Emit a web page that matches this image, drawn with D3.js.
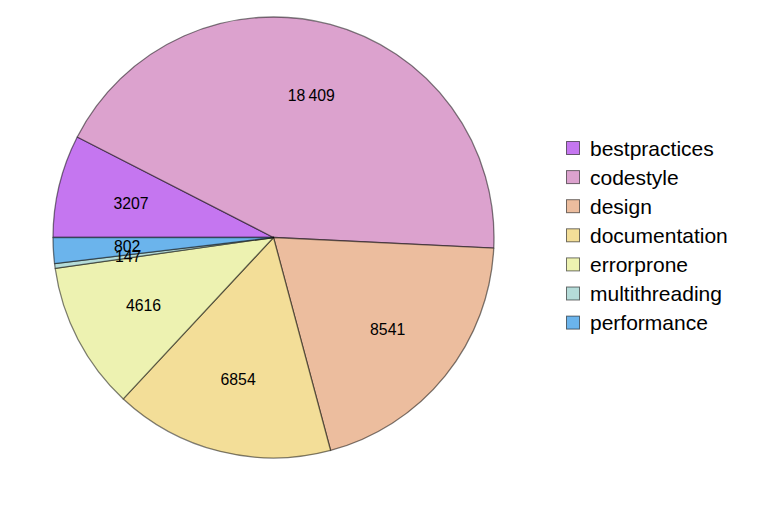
<!DOCTYPE html>
<html>
<head>
<meta charset="utf-8">
<script src="https://cdn.jsdelivr.net/npm/d3@7"></script>
<style>
  html, body { margin: 0; padding: 0; background: #fff; }
  svg { display: block; }
  text { font-family: "Liberation Sans", Arial, sans-serif; }
</style>
</head>
<body>
<svg id="chart" width="765" height="512"></svg>
<script>
const categories = ["bestpractices", "codestyle", "design", "documentation", "errorprone", "multithreading", "performance"];
const values = [3207, 18409, 8541, 6854, 4616, 147, 802];
const colors = ["#c576f0", "#dca2ce", "#ecbd9e", "#f3de98", "#edf2b1", "#b5dcd9", "#6bb4ec"];

const svg = d3.select("#chart");
const cx = 273.5, cy = 237.5, r = 220.5;

const data = categories.map((c, i) => ({ name: c, value: values[i], color: colors[i] }));

const pie = d3.pie().value(d => d.value).sort(null)
  .startAngle(-Math.PI / 2).endAngle(3 * Math.PI / 2);
const arcs = pie(data);
const arc = d3.arc().innerRadius(0).outerRadius(r);
const labelArc = d3.arc().innerRadius(r * 0.665).outerRadius(r * 0.665);

const g = svg.append("g").attr("transform", `translate(${cx},${cy})`);
g.selectAll("path").data(arcs).enter().append("path")
  .attr("d", arc)
  .attr("fill", d => d.data.color)
  .attr("stroke", "#000")
  .attr("stroke-opacity", 0.5)
  .attr("stroke-width", 1.3)
  .attr("stroke-linejoin", "round");

function fmt(v) {
  if (v >= 10000) return d3.format(",")(v).replace(/,/g, "\u202F");
  return String(v);
}

g.selectAll("text.lbl").data(arcs).enter().append("text")
  .attr("class", "lbl")
  .attr("transform", d => `translate(${labelArc.centroid(d)})`)
  .attr("text-anchor", "middle")
  .attr("dominant-baseline", "central")
  .attr("font-size", 15.8)
  .attr("fill", "#000")
  .text(d => fmt(d.data.value));

const legend = svg.append("g").attr("transform", "translate(566,148)");
const rowH = 29.1;
const rows = legend.selectAll("g").data(data).enter().append("g")
  .attr("transform", (d, i) => `translate(0,${i * rowH})`);
rows.append("rect")
  .attr("x", 0.5).attr("y", -6.5)
  .attr("width", 13).attr("height", 13)
  .attr("fill", d => d.color)
  .attr("stroke", "#000").attr("stroke-opacity", 0.55).attr("stroke-width", 1);
rows.append("text")
  .attr("x", 24).attr("y", 0)
  .attr("dominant-baseline", "central")
  .attr("font-size", 21)
  .attr("fill", "#000")
  .text(d => d.name);
</script>
</body>
</html>
